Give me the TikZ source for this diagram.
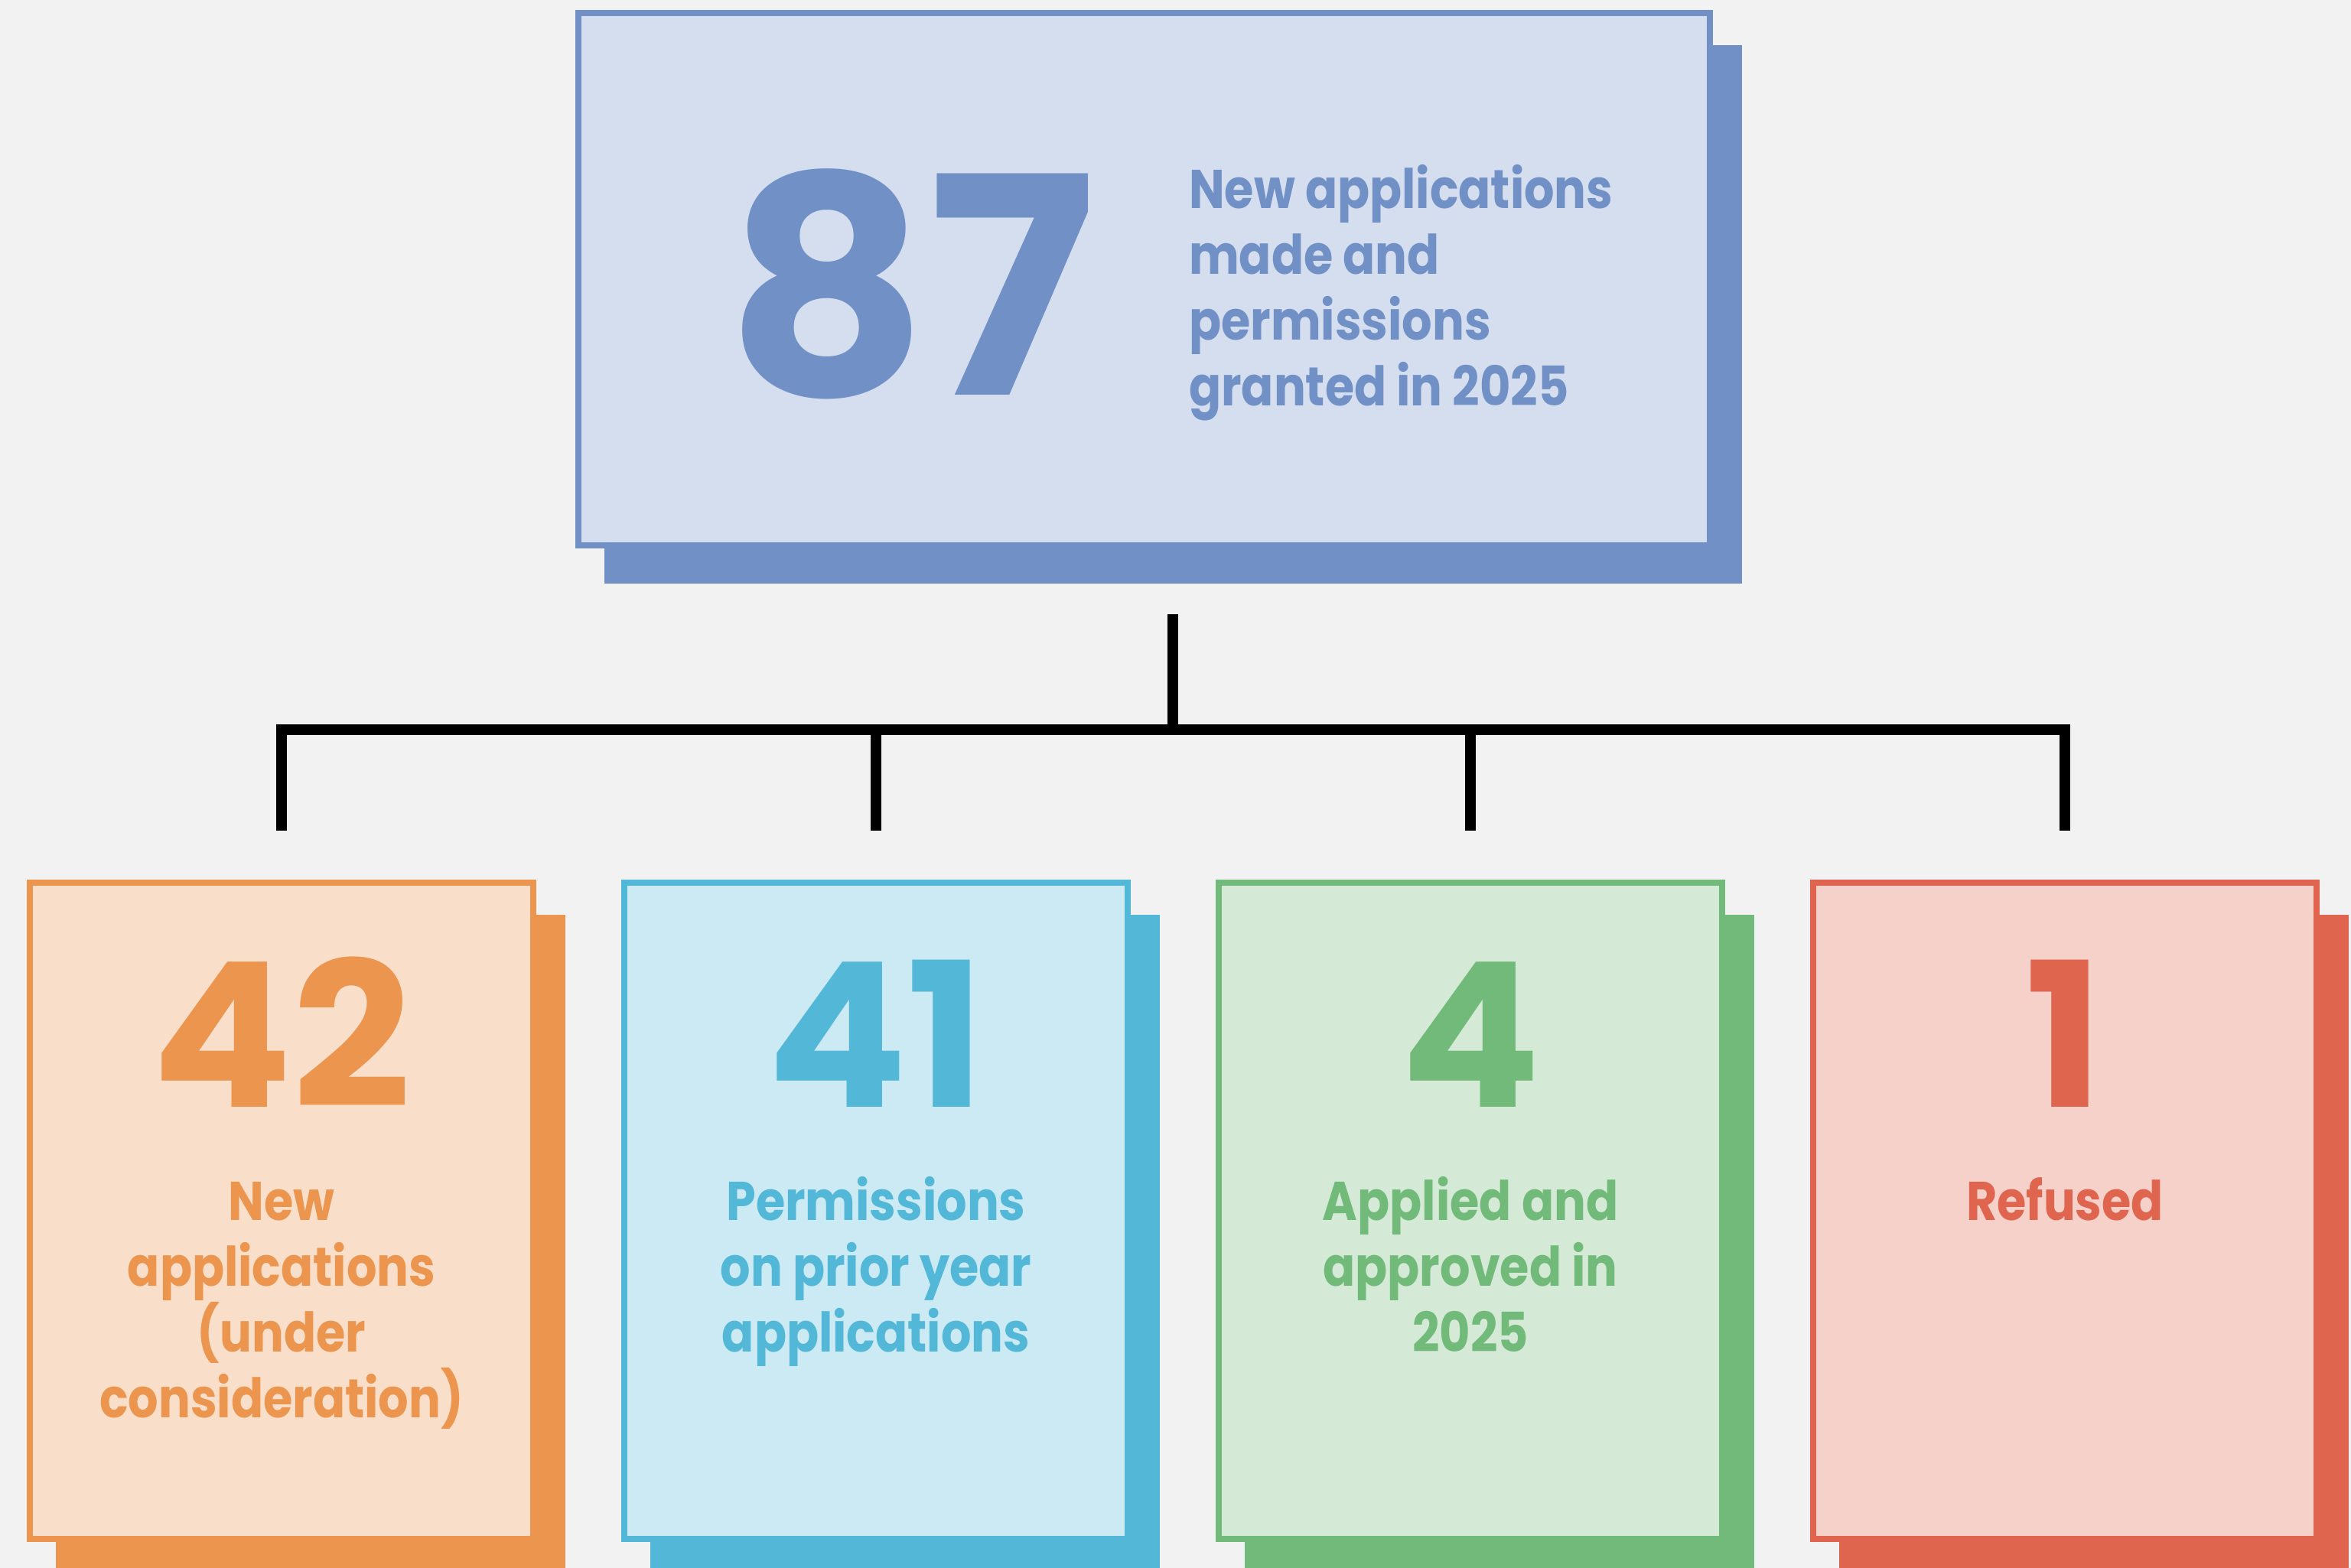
\documentclass[tikz,border=0pt]{standalone}
\usepackage{fontspec}
\setmainfont{Poppins}[FakeStretch=0.87]
\newfontfamily\numfamily{Poppins}[FakeStretch=1.03]
\usetikzlibrary{positioning,shadows}
\definecolor{pageBg}{RGB}{242,242,242}
\definecolor{totalC}{RGB}{112,144,198}
\definecolor{newC}{RGB}{235,149, 78}
\definecolor{priorC}{RGB}{ 83,184,215}
\definecolor{apprC}{RGB}{113,186,122}
\definecolor{refC}{RGB}{224,101, 79}
\newcommand\hugenum{\numfamily\fontsize{113}{113}\selectfont\bfseries}
\newcommand\cardnum{\numfamily\fontsize{75}{75}\selectfont\bfseries}
\newcommand\cardlabel{\fontsize{20.3}{24.5}\selectfont\bfseries}
\tikzset{
  card/.style    ={rectangle, draw=#1, fill=#1!30, line width=0.8mm, inner sep=0pt,
                   minimum width=6.58cm, minimum height=8.58cm,
                   general shadow={fill=#1, draw=#1, shadow xshift=0.38cm, shadow yshift=-0.46cm}},
  num/.style     ={text=#1, font=\cardnum, inner sep=0pt, anchor=base},
  cardtext/.style={text=#1, font=\cardlabel, align=center, inner sep=0pt, anchor=north},
  tree/.style    ={line width=1.4mm, draw=black},
}

\begin{document}
\begin{tikzpicture}[node distance=1.11cm]
\useasboundingbox (0,0) rectangle (30.73,-20.50);
\fill[pageBg] (0,0) rectangle (30.73,-20.50);

% total on top
\node[card=totalC, minimum width=14.79cm, minimum height=6.96cm] (total) at (14.955,-3.65) {};
\node[num=totalC, font=\hugenum] (totalnum) at ([xshift=-3.05cm, yshift=-1.52cm]total.center) {87};
\node[cardtext=totalC, align=left, anchor=north west] (totaltxt) at ([xshift=0.58cm, yshift=1.535cm]total.center)
  {\strut New applications\\made and\\permissions\\granted in 2025};

% the four cards below
\node[card=newC] (new) at (3.68,-15.83) {};
\node[card=priorC, right=of new] (prior) {};
\node[card=apprC, right=of prior] (appr) {};
\node[card=refC, right=of appr] (refused) {};

\node[num=newC] (newnum) at ([yshift=-2.97cm]new.north) {42};
\node[num=priorC] (priornum) at ([yshift=-2.97cm]prior.north) {41};
\node[num=apprC] (apprnum) at ([yshift=-2.97cm]appr.north) {4};
\node[num=refC] (refnum) at ([yshift=-2.97cm]refused.north) {1};

\node[cardtext=newC] (newtxt) at ([yshift=-3.845cm]new.north) {\strut New\\applications\\(under\\consideration)};
\node[cardtext=priorC] (priortxt) at ([yshift=-3.845cm]prior.north) {\strut Permissions\\on prior year\\applications};
\node[cardtext=apprC] (apprtxt) at ([yshift=-3.845cm]appr.north) {\strut Applied and\\approved in\\2025};
\node[cardtext=refC] (reftxt) at ([yshift=-3.845cm]refused.north) {\strut Refused};

% tree connector
\coordinate (hub) at (15.33,-8.03);
\coordinate (bar) at (15.33,-9.54);
\draw[tree] (hub) -- (bar);
\draw[tree] ([yshift=6.4mm]new.north) |- (bar) -| ([yshift=6.4mm]refused.north);
\foreach \b in {prior, appr}
  \draw[tree] (\b.north |- bar) -- ([yshift=6.4mm]\b.north);
\end{tikzpicture}
\end{document}
